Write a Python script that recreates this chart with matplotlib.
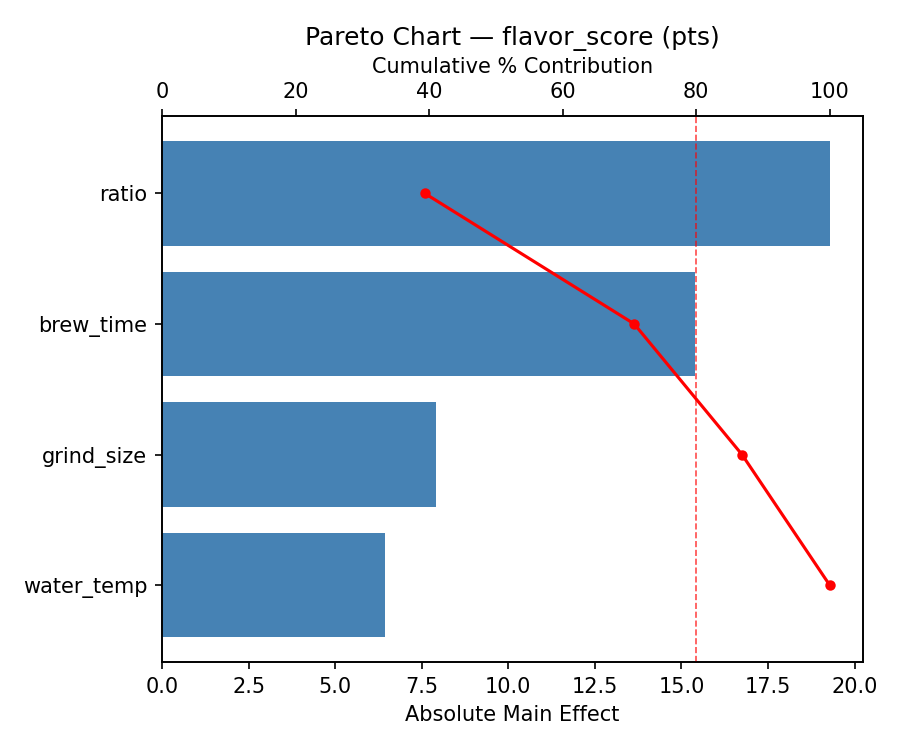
import matplotlib
matplotlib.use('Agg')
import matplotlib.pyplot as plt
import numpy as np

factors = ['ratio', 'brew_time', 'grind_size', 'water_temp']
effects = [19.28, 15.38, 7.91, 6.44]

cum_pct = np.cumsum(effects) / np.sum(effects) * 100

fig, ax = plt.subplots(figsize=(6, 5), dpi=150)
y = np.arange(len(factors))
ax.barh(y, effects, color='steelblue', height=0.8)
ax.set_yticks(y)
ax.set_yticklabels(factors)
ax.invert_yaxis()
ax.set_xlim(0, max(effects) * 1.05)
ax.set_xlabel('Absolute Main Effect')

ax2 = ax.twiny()
ax2.plot(cum_pct, y, color='red', marker='o', markersize=4)
ax2.axvline(80, color='red', linestyle='--', linewidth=0.8, alpha=0.7)
ax2.set_xlim(0, 105)
ax2.set_xlabel('Cumulative % Contribution')

ax.set_title('Pareto Chart \u2014 flavor_score (pts)')
fig.subplots_adjust(left=0.18, right=0.959, top=0.845, bottom=0.117)
fig.savefig('out.png')
